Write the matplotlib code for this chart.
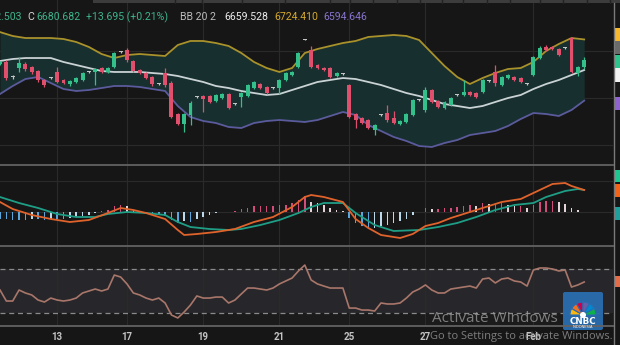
import numpy as np
import matplotlib.pyplot as plt
from matplotlib import transforms
from matplotlib.patches import Rectangle, Wedge, Circle, FancyBboxPatch

# hourly candles, index 0..92
opens = [6672, 6677, 6645, 6664, 6672, 6666, 6657, 6638, 6643, 6655,
         6638, 6630, 6634, 6638, 6655, 6655, 6664, 6655, 6666, 6697,
         6702, 6679, 6660, 6653, 6644, 6630, 6653, 6632, 6566, 6545,
         6564, 6602, 6604, 6604, 6594, 6600, 6609, 6588, 6602, 6604,
         6621, 6630, 6624, 6621, 6621, 6638, 6649, 6666, 6725, 6702,
         6670, 6664, 6664, 6647, 6651, 6628, 6566, 6558, 6554, 6532,
         6564, 6568, 6558, 6545, 6549, 6564, 6596, 6575, 6617, 6594,
         6579, 6585, 6606, 6607, 6613, 6611, 6613, 6636, 6655, 6628,
         6643, 6645, 6643, 6630, 6649, 6685, 6708, 6708, 6704, 6706,
         6727, 6653, 6666.987]
highs = [6679, 6680, 6648, 6687, 6676, 6668, 6660, 6641, 6645, 6666,
         6640, 6638, 6645, 6656, 6658, 6664, 6666, 6666, 6698, 6700,
         6706, 6681, 6662, 6655, 6647, 6633, 6664, 6636, 6568, 6568,
         6594, 6605, 6607, 6606, 6609, 6611, 6611, 6590, 6613, 6630,
         6637, 6633, 6626, 6624, 6640, 6655, 6658, 6698, 6726, 6710,
         6672, 6666, 6666, 6655, 6653, 6630, 6568, 6560, 6556, 6545,
         6566, 6585, 6573, 6553, 6568, 6598, 6598, 6624, 6619, 6596,
         6594, 6602, 6608, 6638, 6615, 6613, 6640, 6638, 6670, 6647,
         6652, 6647, 6645, 6632, 6689, 6710, 6712, 6710, 6706, 6708,
         6729, 6668, 6687]
lows = [6670, 6638, 6641, 6655, 6658, 6652, 6634, 6624, 6640, 6632,
        6629, 6625, 6632, 6636, 6653, 6628, 6653, 6653, 6664, 6695,
        6677, 6655, 6651, 6640, 6626, 6628, 6624, 6558, 6542, 6528,
        6543, 6600, 6570, 6589, 6591, 6598, 6577, 6585, 6581, 6602,
        6619, 6619, 6609, 6619, 6608, 6636, 6647, 6664, 6723, 6664,
        6662, 6658, 6643, 6645, 6649, 6558, 6537, 6545, 6534, 6522,
        6562, 6550, 6545, 6543, 6547, 6562, 6594, 6570, 6590, 6579,
        6577, 6583, 6604, 6605, 6604, 6600, 6611, 6634, 6626, 6626,
        6641, 6636, 6632, 6628, 6647, 6683, 6700, 6702, 6689, 6704,
        6653, 6647, 6662.503]
closes = [6676, 6643, 6644, 6674, 6662, 6655, 6638, 6628, 6642, 6634,
          6632, 6636, 6643, 6653, 6656, 6662, 6655, 6664, 6696, 6698,
          6681, 6657, 6653, 6643, 6630, 6631, 6628, 6560, 6545, 6566,
          6590, 6603, 6598, 6592, 6606, 6609, 6579, 6587, 6611, 6628,
          6634, 6621, 6611, 6622, 6638, 6653, 6655, 6696, 6724, 6666,
          6664, 6660, 6645, 6653, 6652, 6560, 6554, 6547, 6537, 6543,
          6565, 6554, 6547, 6551, 6566, 6596, 6597, 6617, 6592, 6581,
          6592, 6600, 6607, 6613, 6607, 6602, 6638, 6637, 6632, 6645,
          6649, 6638, 6634, 6631, 6687, 6706, 6702, 6704, 6691, 6707,
          6655, 6666.987, 6680.682]

# Bollinger Bands (20, 2), read every second candle
bb_idx = np.arange(0, 93, 2)
bb_upper = [6740.0, 6731.7, 6727.4, 6727.4, 6727.4, 6725.3, 6719.0, 6708.4, 6693.5, 6685.0,
            6691.4, 6693.5, 6691.4, 6689.3, 6712.6, 6721.1, 6721.1, 6716.8, 6710.5, 6695.6,
            6676.6, 6663.8, 6655.4, 6663.8, 6695.6, 6704.1, 6710.5, 6716.8, 6721.1, 6729.6,
            6731.7, 6733.8, 6731.7, 6723.2, 6695.6, 6668.1, 6644.8, 6629.9, 6642.6, 6653.2,
            6661.7, 6663.8, 6676.6, 6699.9, 6714.7, 6727.4, 6724.410]
bb_mid = [6678.7, 6682.9, 6685.0, 6685.0, 6685.0, 6676.6, 6670.2, 6663.8, 6657.5, 6655.4,
          6655.4, 6655.4, 6653.2, 6651.1, 6646.9, 6640.5, 6634.2, 6625.7, 6621.4, 6615.1,
          6610.8, 6606.6, 6608.7, 6617.2, 6625.7, 6634.2, 6638.4, 6642.6, 6640.5, 6634.2,
          6627.8, 6619.3, 6610.8, 6604.5, 6596.0, 6587.5, 6583.3, 6579.0, 6583.3, 6591.8,
          6600.2, 6606.6, 6619.3, 6629.9, 6638.4, 6649.0, 6659.528]
bb_lower = [6608.7, 6625.7, 6640.5, 6644.8, 6632.0, 6619.3, 6615.1, 6617.2, 6621.4, 6625.7,
            6625.7, 6623.6, 6619.3, 6615.1, 6583.3, 6559.9, 6551.5, 6547.2, 6538.8, 6536.6,
            6547.2, 6551.5, 6553.6, 6551.5, 6549.4, 6553.6, 6562.1, 6570.6, 6564.2, 6543.0,
            6530.3, 6517.6, 6509.1, 6498.5, 6496.4, 6504.8, 6511.2, 6521.8, 6526.0, 6530.3,
            6540.9, 6555.7, 6568.4, 6566.3, 6562.1, 6574.8, 6594.646]

# MACD
macd_idx = [0, 2, 5, 8, 11, 14, 17, 19, 21, 23, 26, 28, 29, 31, 34, 37, 40, 43, 46, 48,
            49, 51, 54, 56, 58, 60, 63, 65, 67, 69, 71, 74, 77, 79, 82, 85, 87, 89, 90, 92]
macd_line = [8.0, 2.4, -2.4, -5.6, -8.0, -6.4, -0.8, 3.2, 1.6, -0.8,
             -5.6, -14.4, -18.4, -17.6, -16.0, -13.6, -8.0, -4.0, 4.0, 12.0,
             13.6, 12.0, 8.0, -5.6, -12.8, -18.4, -20.8, -17.6, -11.2, -8.8,
             -4.8, 0.0, 4.8, 8.0, 10.4, 17.6, 22.4, 23.2, 20.8, 17.6]
signal_idx = [0, 3, 6, 9, 12, 15, 17, 20, 23, 26, 28, 30, 33, 36, 38, 41, 44, 47, 49, 51,
              54, 56, 59, 62, 66, 69, 72, 75, 78, 81, 84, 86, 89, 91, 92]
signal_line = [12.0, 7.2, 3.2, -1.6, -4.0, -4.0, -1.6, 0.0, -0.8, -2.4,
               -8.0, -12.0, -13.6, -14.4, -13.6, -10.4, -6.4, -0.8, 4.0, 7.2,
               7.2, -0.8, -10.4, -15.2, -14.4, -12.0, -8.8, -4.0, 1.6, 5.6,
               7.2, 12.0, 16.8, 18.4, 17.6]
macd_hist = [-5.6, -5.6, -6.4, -6.4, -6.4, -5.6, -5.6, -6.4, -5.6, -5.6,
             -5.6, -4.8, -4.0, -3.2, -2.4, -0.8, 0.6, 1.6, 4.8, 5.6,
             4.8, 1.6, 0.8, -0.8, -1.6, -2.4, -3.2, -6.4, -8.8, -7.2,
             -8.0, -5.6, -4.0, -2.4, -0.8, -0.3, 0.3, 0.8, 2.4, 3.2,
             4.8, 4.8, 4.8, 4.8, 5.6, 5.6, 7.2, 9.6, 12.8, 8.0,
             7.2, 5.6, 3.2, 1.6, 0.8, -4.8, -8.8, -11.2, -13.6, -12.8,
             -11.2, -10.4, -8.8, -7.2, -5.6, -2.4, 0.4, 3.2, 2.4, 2.4,
             3.2, 3.2, 4.0, 4.8, 5.6, 4.8, 7.2, 6.4, 6.4, 7.2,
             5.6, 4.8, 4.8, 3.2, 5.6, 8.0, 8.8, 8.8, 8.0, 6.4,
             3.2, 1.6, 0.4]

# RSI 14
rsi = [50.9, 40.9, 40.9, 50.9, 48.2, 46.4, 41.8, 40.0, 43.6, 41.8,
       40.9, 41.8, 43.6, 48.2, 50.0, 51.8, 50.0, 51.8, 64.5, 62.7,
       56.4, 48.2, 46.4, 43.6, 41.8, 43.6, 39.1, 28.2, 25.5, 30.9,
       37.3, 45.5, 43.6, 43.6, 44.5, 44.5, 39.1, 41.8, 47.3, 52.7,
       52.7, 51.8, 50.9, 52.7, 56.4, 59.1, 61.8, 68.2, 73.6, 60.0,
       56.4, 54.5, 52.7, 52.7, 52.7, 34.5, 34.5, 32.7, 32.7, 31.8,
       39.1, 38.2, 38.2, 39.1, 43.6, 49.1, 51.8, 55.5, 50.9, 48.2,
       48.2, 51.8, 52.7, 53.6, 54.5, 52.7, 60.9, 61.8, 57.3, 60.9,
       61.8, 59.1, 58.2, 54.5, 69.1, 70.9, 70.9, 70.0, 68.2, 69.1,
       53.6, 55.5, 58.2]

tick_pos = [9, 20, 32, 44, 55, 67, 84]
tick_labels = ['13', '17', '19', '21', '25', '27', 'Feb']

BG = '#161616'
GREEN = '#33c08b'
RED = '#e0506c'
GRID = '#2a2a2a'
W, H = 620, 345
XMAX = 613 / 6.35


def rect(l, t, r, b):
    return [l / W, 1 - b / H, (r - l) / W, (b - t) / H]


fig = plt.figure(figsize=(6.2, 3.45), dpi=100, facecolor=BG)
ax_p = fig.add_axes(rect(0, 0, 613, 165))
ax_m = fig.add_axes(rect(0, 165, 613, 246))
ax_r = fig.add_axes(rect(0, 246, 613, 326))

for ax in (ax_p, ax_m, ax_r):
    ax.set_facecolor(BG)
    ax.set_xlim(0, XMAX)
    for s in ax.spines.values():
        s.set_visible(False)
    ax.set_xticks(tick_pos)
    ax.tick_params(length=0, labelleft=False, labelbottom=False)
    ax.grid(True, color=GRID, lw=0.8)
    ax.set_axisbelow(True)

# price panel
o, hi, lo, c = map(np.array, (opens, highs, lows, closes))
idx = np.arange(len(o))
col = np.where(c - o > 1.5, GREEN, np.where(o - c > 1.5, RED, '#c4c4c4'))
ax_p.fill_between(bb_idx, bb_lower, bb_upper, color='#172f2e', lw=0, zorder=1)
ax_p.plot(bb_idx, bb_upper, color='#a9922c', lw=1.3, zorder=2)
ax_p.plot(bb_idx, bb_mid, color='#c9d2d5', lw=1.3, zorder=2)
ax_p.plot(bb_idx, bb_lower, color='#5b5a9c', lw=1.3, zorder=2)
ax_p.vlines(idx, lo, hi, color=col, lw=0.9, zorder=3)
body_h = np.maximum(np.abs(c - o), 2.2)
ax_p.bar(idx, body_h, bottom=np.minimum(o, c), width=0.62, color=col, lw=0, zorder=4)
ax_p.set_ylim(6808 - 2.12 * 165, 6808)
ax_p.set_yticks([6500, 6600, 6700])

# MACD panel
hist = np.array(macd_hist)
prev = np.r_[hist[0], hist[:-1]]
hcol = np.where(hist >= 0, np.where(hist >= prev, '#d24c7c', '#e4d4da'),
                np.where(hist <= prev, '#5ba6dc', '#bcd9ec'))
ax_m.bar(idx, hist, width=0.24, color=hcol, lw=0, zorder=2)
ax_m.plot(signal_idx, signal_line, color='#1f9e86', lw=1.3, zorder=3)
ax_m.plot(macd_idx, macd_line, color='#e0632c', lw=1.3, zorder=4)
ax_m.set_ylim(-27.2, 37.6)
ax_m.set_yticks([0, 25])

# RSI panel
ax_r.set_facecolor('#1b1b1b')
ax_r.axhspan(30, 70, color='#27272b', lw=0, zorder=0)
for lvl in (30, 70):
    ax_r.axhline(lvl, color='#8a8a8a', lw=0.9, ls=(0, (4, 3)), zorder=1)
ax_r.plot(idx, rsi, color='#a9766a', lw=1.2, zorder=3)
ax_r.set_ylim(18.2, 90.9)
ax_r.set_yticks([])
ax_r.set_xticklabels(tick_labels)
ax_r.tick_params(labelbottom=True, pad=4, labelsize=7, labelcolor='#c4c4c4')
for t in ax_r.get_xticklabels():
    t.set_fontweight('bold')
    t.set_family('Roboto')

# value badges on the right edge
badges = [
    (ax_p, 6734.9, 27.6, '#f5b82e'), (ax_p, 6707.3, 27.6, '#6b6b6b'),
    (ax_p, 6677.6, 27.6, '#30c48d'), (ax_p, 6649.0, 29.0, '#f2f2f2'),
    (ax_p, 6588.6, 27.6, '#8e63ce'),
    (ax_m, 28.8, 9.6, '#1fc690'), (ax_m, 17.2, 10.4, '#f2641a'),
    (ax_m, -1.2, 10.4, '#1f9e9c'),
    (ax_r, 58.6, 10.0, '#e26d4b'),
]
for ax, v, hgt, colr in badges:
    tr = transforms.blended_transform_factory(fig.transFigure, ax.transData)
    fig.add_artist(Rectangle((614.5 / W, v - hgt / 2), 6 / W, hgt, transform=tr,
                             color=colr, lw=0, clip_on=False))

# frame lines, toolbar strip, logo
ov = fig.add_axes([0, 0, 1, 1], zorder=10)
ov.set_xlim(0, W)
ov.set_ylim(H, 0)
ov.axis('off')
ov.patch.set_alpha(0)
ov.add_patch(Rectangle((93, 0), 527, 3, color='#3c3c3c', lw=0))
for xd in [175, 202, 242, 285, 330, 350, 373, 397, 420, 442, 463, 487, 510, 540, 563, 587, 610]:
    ov.plot([xd, xd], [0, 3], color='#222222', lw=1)
for yl in (165, 246, 326):
    ov.plot([0, 613], [yl, yl], color='#626262', lw=1.3)
ov.plot([613.5, 613.5], [3, H], color='#7a7a7a', lw=1)

hdr = dict(fontsize=7.6, family='Roboto', va='center')
fig.text(22 / W, 1 - 17 / H, 'L6662.503', ha='right', color='#3db48a', **hdr)
fig.text(27 / W, 1 - 17 / H, 'C', ha='left', color='#d6d6d6', **hdr)
fig.text(36 / W, 1 - 17 / H, '6680.682', ha='left', color='#3db48a', **hdr)
fig.text(86 / W, 1 - 17 / H, '+13.695 (+0.21%)', ha='left', color='#3db48a', **hdr)
fig.text(180 / W, 1 - 17 / H, 'BB 20 2', ha='left', color='#bdbdbd', **hdr)
fig.text(224 / W, 1 - 17 / H, '6659.528', ha='left', color='#ececec', **hdr)
fig.text(274 / W, 1 - 17 / H, '6724.410', ha='left', color='#d7a92c', **hdr)
fig.text(323 / W, 1 - 17 / H, '6594.646', ha='left', color='#8a74cf', **hdr)

ov.add_patch(FancyBboxPatch((563, 292), 40, 38, boxstyle='round,pad=0,rounding_size=2',
                            color='#2a6db0', lw=0, alpha=0.95))
feathers = ['#fcb711', '#f37021', '#cc004c', '#6460aa', '#0089d0', '#0db14b']
for k, fc in enumerate(feathers):
    ov.add_patch(Wedge((583, 315), 13, 180 + k * 30, 210 + k * 30, facecolor=fc,
                       edgecolor='#2a6db0', lw=0.8))
ov.add_patch(Circle((583, 315), 3, color='white', lw=0))
ov.text(583, 322, 'CNBC', color='white', fontsize=6.3, fontweight='bold',
        ha='center', va='center', family='DejaVu Sans')
ov.text(583, 327.5, 'INDONESIA', color='white', fontsize=2.6, ha='center', va='center')

ov.text(432, 319, 'Activate Windows', color='#a0a0a0', alpha=0.75, fontsize=11,
        family='Open Sans', ha='left', va='center')
ov.text(430, 337, 'Go to Settings to activate Windows.', color='#a0a0a0', alpha=0.75,
        fontsize=8, family='Open Sans', ha='left', va='center')

fig.savefig('out.png', dpi=100, facecolor=BG)
